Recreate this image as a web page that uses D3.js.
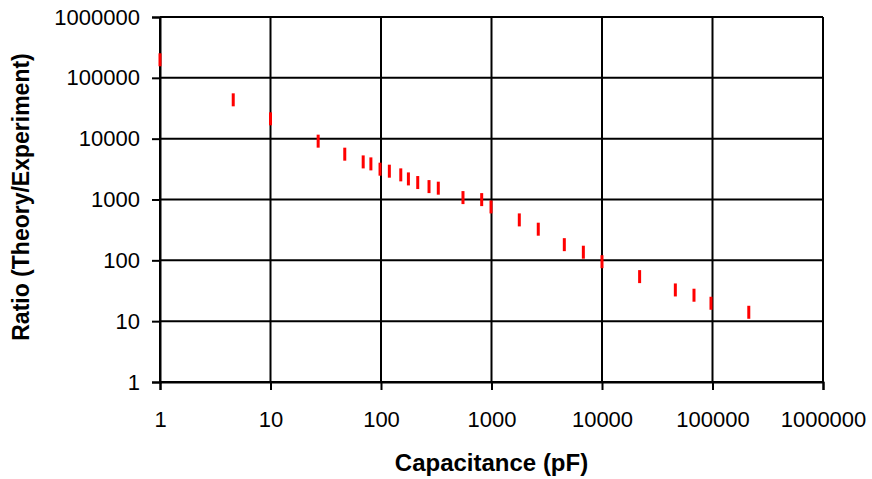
<!DOCTYPE html>
<html>
<head>
<meta charset="utf-8">
<script src="https://cdn.jsdelivr.net/npm/d3@7"></script>
<style>
  body { margin: 0; background: #fff; }
  svg text { font-family: "Liberation Sans", Arial, sans-serif; }
</style>
</head>
<body>
<div id="chart"></div>
<script>
const capacitance = [1, 4.6, 10, 27, 47, 69, 81, 98, 119, 151, 177, 215, 272, 330,
  552, 815, 990, 1785, 2650, 4560, 6780, 10000, 21900, 46100, 68000, 96900, 213000];
const ratio = [198000, 43500, 21200, 9100, 5560, 4150, 3850, 3150, 2920, 2540, 2180, 1900, 1630, 1535,
  1075, 996, 755, 462, 325, 181, 136, 95, 54, 32.6, 26.7, 19.7, 14];
const tickValues = [1, 10, 100, 1000, 10000, 100000, 1000000];

const points = capacitance.map((c, i) => ({ c: c, r: ratio[i] }));

const margin = { top: 17, right: 49, bottom: 97, left: 160 };
const width = 872 - margin.left - margin.right;
const height = 479 - margin.top - margin.bottom;

const svg = d3
  .select("#chart")
  .append("svg")
  .attr("width", 872)
  .attr("height", 479)
  .append("g")
  .attr("transform", `translate(${margin.left},${margin.top})`);

const x = d3.scaleLog().domain([1, 1e6]).range([0, width]);
const y = d3.scaleLog().domain([1, 1e6]).range([height, 0]);

// grid
svg
  .append("g")
  .selectAll("line.v")
  .data(tickValues)
  .join("line")
  .attr("x1", (d) => x(d))
  .attr("x2", (d) => x(d))
  .attr("y1", 0)
  .attr("y2", height)
  .attr("stroke", "#000")
  .attr("stroke-width", 2);

svg
  .append("g")
  .selectAll("line.h")
  .data(tickValues)
  .join("line")
  .attr("x1", 0)
  .attr("x2", width)
  .attr("y1", (d) => y(d))
  .attr("y2", (d) => y(d))
  .attr("stroke", "#000")
  .attr("stroke-width", 2);

// axes
const xAxis = svg
  .append("g")
  .attr("transform", `translate(0,${height})`)
  .call(
    d3.axisBottom(x).tickValues(tickValues).tickFormat(d3.format("d")).tickSize(8)
  );
xAxis.selectAll("text").attr("y", 45).attr("dy", 0);

const yAxis = svg
  .append("g")
  .call(
    d3.axisLeft(y).tickValues(tickValues).tickFormat(d3.format("d")).tickSize(8).tickPadding(12)
  );

svg.selectAll(".domain").attr("stroke", "#000").attr("stroke-width", 2);
svg.selectAll(".tick line").attr("stroke", "#000").attr("stroke-width", 2);
svg
  .selectAll(".tick text")
  .attr("fill", "#000")
  .style("font-size", "22px")
  .style("font-family", '"Liberation Sans", Arial, sans-serif');

// markers
svg
  .selectAll("rect.pt")
  .data(points)
  .join("rect")
  .attr("class", "pt")
  .attr("x", (d) => x(d.c) - 1.5)
  .attr("y", (d) => y(d.r) - 6.5)
  .attr("width", 3)
  .attr("height", 13)
  .attr("fill", "#ff0000");

// titles
svg
  .append("text")
  .attr("x", x(1000))
  .attr("y", 471 - margin.top)
  .style("text-anchor", "middle")
  .style("font-size", "24px")
  .style("font-weight", "bold")
  .text("Capacitance (pF)");

svg
  .append("text")
  .attr("transform", "rotate(-90)")
  .attr("x", -(197 - margin.top))
  .attr("y", 29 - margin.left)
  .style("text-anchor", "middle")
  .style("font-size", "23px")
  .style("font-weight", "bold")
  .text("Ratio (Theory/Experiment)");
</script>
</body>
</html>
